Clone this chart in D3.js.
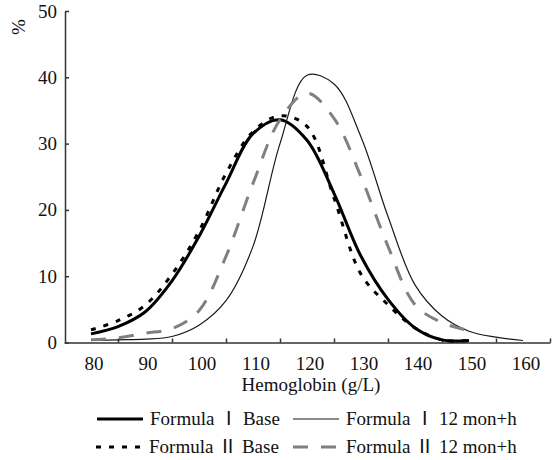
<!DOCTYPE html>
<html lang="en">
<head>
    <meta charset="UTF-8">
    <title>Hemoglobin distribution</title>
    <script src="https://d3js.org/d3.v7.min.js"></script>
    <style>
        body {
            margin: 0;
            padding: 0;
            background: #fff;
        }
        svg text {
            font-family: "Liberation Serif", "Noto Sans CJK SC", serif;
            font-size: 19px;
            fill: #111;
        }
        .axis path, .axis line {
            stroke: #333;
            stroke-width: 1.5;
        }
    </style>
</head>
<body>
    <div id="chart"></div>
    <script>
        // Hemoglobin (g/L) sample points
        const hb = [80, 85, 90, 95, 100, 105, 110, 115, 120, 125, 130, 135, 140, 145, 150];
        const hbLong = [80, 85, 90, 95, 100, 105, 110, 115, 120, 125, 130, 135, 140, 145, 150, 155, 160];
        const xLabels = [80, 90, 100, 110, 120, 130, 140, 150, 160];
        const yTicks = [0, 10, 20, 30, 40, 50];

        // % of children
        const f1Base = [1.3, 2.4, 4.6, 9.3, 16, 24, 31.5, 33.6, 30.5, 22.5, 13, 6.5, 2.2, 0.4, 0.3];
        const f2Base = [1.9, 3.3, 5.6, 10.3, 16.8, 25.5, 31.8, 34.2, 32.6, 21.8, 10.3, 5.7, 2.2, 0.4, 0.3];
        const f1Month = [0.3, 0.4, 0.5, 0.9, 2.6, 6.3, 14.5, 30, 40.3, 39, 31, 19, 8.7, 4, 1.7, 0.8, 0.3];
        const f2Month = [0.4, 0.7, 1.4, 2.1, 4.8, 13, 24, 33.6, 37.6, 33.8, 25, 14.5, 5.7, 3, 1.8];

        const series = [
            {name: "Formula Ⅰ Base", xs: hb, ys: f1Base, color: "#000", width: 3, dash: null},
            {name: "Formula Ⅰ 12 mon+h", xs: hbLong, ys: f1Month, color: "#1a1a1a", width: 1.2, dash: null},
            {name: "Formula Ⅱ Base", xs: hb, ys: f2Base, color: "#000", width: 3, dash: "5,8"},
            {name: "Formula Ⅱ 12 mon+h", xs: hb, ys: f2Month, color: "#808080", width: 3, dash: "15,13"}
        ];

        const width = 557, height = 460;

        const svg = d3.select("#chart")
            .append("svg")
            .attr("width", width)
            .attr("height", height);

        const x = d3.scaleLinear().domain([75, 165]).range([64, 550]);
        const y = d3.scaleLinear().domain([0, 50]).range([342.5, 11]);

        // x axis: ticks between labels, pointing up
        svg.append("g")
            .attr("class", "axis")
            .attr("transform", "translate(0,342.5)")
            .call(d3.axisBottom(x)
                .tickValues(d3.range(85, 166, 10))
                .tickSizeInner(-4)
                .tickSizeOuter(0)
                .tickFormat(""));

        svg.append("g")
            .selectAll("text")
            .data(xLabels)
            .enter()
            .append("text")
            .attr("x", d => x(d) + 3)
            .attr("y", 370)
            .attr("text-anchor", "middle")
            .text(d => d);

        // y axis: ticks pointing right
        const yAxis = svg.append("g")
            .attr("class", "axis")
            .attr("transform", "translate(65,0)")
            .call(d3.axisLeft(y)
                .tickValues(yTicks)
                .tickSizeInner(-4)
                .tickSizeOuter(0)
                .tickPadding(8));
        yAxis.selectAll("text")
            .style("font-size", "19px")
            .style("font-family", "'Liberation Serif', serif")
            .attr("fill", "#111");

        svg.append("text")
            .attr("transform", "translate(25,27) rotate(-90)")
            .attr("text-anchor", "middle")
            .text("%");

        svg.append("text")
            .attr("x", 311)
            .attr("y", 391)
            .attr("text-anchor", "middle")
            .text("Hemoglobin (g/L)");

        const line = d3.line()
            .x(d => x(d[0]))
            .y(d => y(d[1]))
            .curve(d3.curveCatmullRom.alpha(0.5));

        svg.append("g")
            .selectAll("path")
            .data(series)
            .enter()
            .append("path")
            .attr("d", s => line(s.xs.map((v, i) => [v, s.ys[i]])))
            .attr("fill", "none")
            .attr("stroke", s => s.color)
            .attr("stroke-width", s => s.width)
            .attr("stroke-dasharray", s => s.dash);

        // legend, two rows of two
        const legendPos = [[97, 419], [293, 419], [96, 447], [293, 447]];
        const legend = svg.append("g")
            .selectAll("g")
            .data(series)
            .enter()
            .append("g")
            .attr("transform", (s, i) => `translate(${legendPos[i][0]},${legendPos[i][1]})`);

        legend.append("line")
            .attr("x1", 0)
            .attr("x2", 46)
            .attr("stroke", s => s.color)
            .attr("stroke-width", s => s.width)
            .attr("stroke-dasharray", s => s.dash);

        legend.append("text")
            .attr("x", 53)
            .attr("y", 6)
            .text(s => s.name);
    </script>
</body>
</html>
